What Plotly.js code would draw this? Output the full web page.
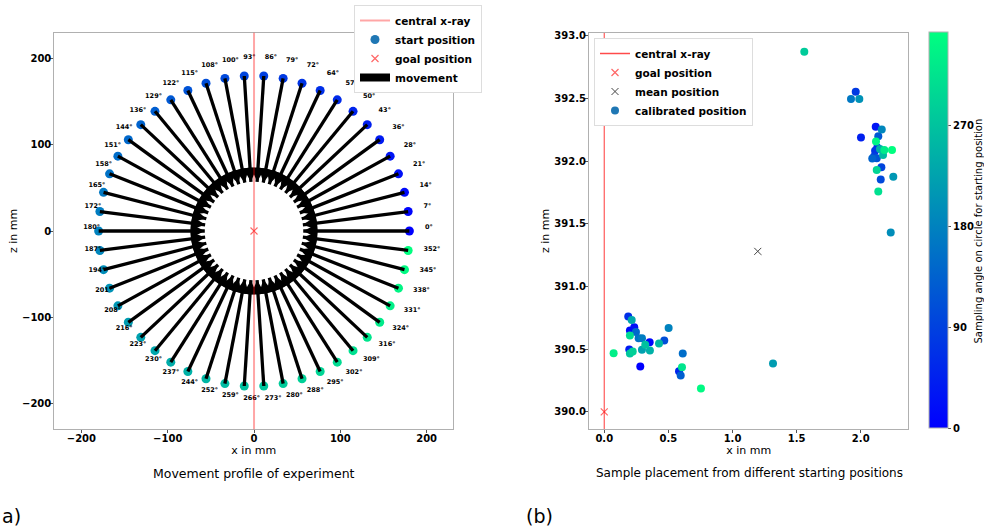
<!DOCTYPE html>
<html><head><meta charset="utf-8">
<script src="https://cdn.plot.ly/plotly-3.0.1.min.js"></script>
<style>html,body{margin:0;padding:0;background:#fff}</style>
</head><body><div id="chart" style="width:984px;height:532px"></div>
<script>
// ---- data ----
const angles = [0,7.2,14.4,21.6,28.8,36,43.2,50.4,57.6,64.8,72,79.2,86.4,93.6,100.8,108,115.2,122.4,129.6,136.8,144,151.2,158.4,165.6,172.8,180,187.2,194.4,201.6,208.8,216,223.2,230.4,237.6,244.8,252,259.2,266.4,273.6,280.8,288,295.2,302.4,309.6,316.8,324,331.2,338.4,345.6,352.8];
const angleLabels = ['0°','7°','14°','21°','28°','36°','43°','50°','57°','64°','72°','79°','86°','93°','100°','108°','115°','122°','129°','136°','144°','151°','158°','165°','172°','180°','187°','194°','201°','208°','216°','223°','230°','237°','244°','252°','259°','266°','273°','280°','288°','295°','302°','309°','316°','324°','331°','338°','345°','352°'];
const startRadius = 180;           // mm
const goalLeftX = [0], goalLeftZ = [0];

// calibrated positions, one per starting angle (same order as angles)
const calibX = [0.281,0.354,0.200,0.234,2.117,0.195,2.002,0.583,2.129,0.187,2.112,1.961,2.104,2.161,2.156,0.468,2.125,2.137,0.596,2.090,0.247,0.612,0.268,1.924,0.294,0.502,2.164,2.234,1.989,2.254,1.316,0.294,0.214,2.150,0.356,0.427,2.174,0.320,0.200,1.560,0.222,2.125,0.200,2.137,0.606,2.184,0.073,2.119,0.754,2.244];
const calibZ = [390.362,390.556,390.650,390.676,392.275,390.498,392.190,390.325,392.110,390.761,392.083,392.554,392.038,391.953,391.855,390.570,392.025,392.200,390.290,392.022,390.638,390.466,390.588,392.496,390.588,390.670,392.254,391.432,392.496,391.876,390.386,390.495,390.734,392.097,390.490,390.546,392.051,390.535,390.466,392.873,390.482,391.931,390.610,391.759,390.357,392.089,390.468,392.158,390.187,392.089];
const goalRightX = [0], goalRightZ = [390];
const meanX = [1.197], meanZ = [391.281];
const colorbarTicks = [0,90,180,270];

// ---- styling constants ----
const arrowScale = 0.683;  // quiver length as fraction of the movement
const labelFactor = 1.1;
const winter = [[0,'rgb(0,0,255)'],[1,'rgb(0,255,128)']];
const cmax = Math.max(...angles);
const boldTick = {family:'DejaVu Sans', size:10, weight:'bold', color:'black'};
const frameCol = '#b0b0b0';

// ---- derived geometry ----
const sx = angles.map(a => startRadius*Math.cos(a*Math.PI/180));
const sz = angles.map(a => startRadius*Math.sin(a*Math.PI/180));
const tx = sx.map(v => v + arrowScale*(goalLeftX[0]-v));
const tz = sz.map(v => v + arrowScale*(goalLeftZ[0]-v));
const shaftX = [], shaftZ = [];
sx.forEach((v,i)=>{shaftX.push(v, tx[i], null); shaftZ.push(sz[i], tz[i], null);});
const headRot = angles.map(a => -90 - a);
const lx = sx.map(v => labelFactor*v), lz = sz.map(v => labelFactor*v);

const traces = [
  // left legend entries
  {x:[null],y:[null],mode:'lines',name:'central x-ray',line:{color:'rgba(255,0,0,0.35)',width:2},xaxis:'x',yaxis:'y',legend:'legend'},
  {x:[null],y:[null],mode:'markers',name:'start position',marker:{color:'#1f77b4',size:9},xaxis:'x',yaxis:'y',legend:'legend'},
  {x:goalLeftX,y:goalLeftZ,mode:'markers',name:'goal position',marker:{symbol:'x-thin',size:7,line:{color:'rgba(255,0,0,0.6)',width:1.2}},xaxis:'x',yaxis:'y',legend:'legend'},
  {x:[null],y:[null],mode:'lines',name:'movement',line:{color:'black',width:8},xaxis:'x',yaxis:'y',legend:'legend'},
  // left marks
  {x:sx,y:sz,mode:'markers',showlegend:false,marker:{color:angles,colorscale:winter,cmin:0,cmax:cmax,size:9,showscale:false},xaxis:'x',yaxis:'y',hoverinfo:'skip'},
  {x:shaftX,y:shaftZ,mode:'lines',showlegend:false,line:{color:'black',width:3.3},xaxis:'x',yaxis:'y',hoverinfo:'skip'},
  {x:tx,y:tz,mode:'markers',showlegend:false,marker:{symbol:'arrow-up',size:14,color:'black',angle:headRot,line:{width:0}},xaxis:'x',yaxis:'y',hoverinfo:'skip'},
  {x:lx,y:lz,mode:'text',text:angleLabels,textposition:'top right',showlegend:false,textfont:{family:'DejaVu Sans',size:6.5,weight:'bold',color:'black'},xaxis:'x',yaxis:'y',hoverinfo:'skip'},
  // right legend entries
  {x:[null],y:[null],mode:'lines',name:'central x-ray',line:{color:'#ff4a4a',width:1.5},xaxis:'x2',yaxis:'y2',legend:'legend2'},
  {x:goalRightX,y:goalRightZ,mode:'markers',name:'goal position',marker:{symbol:'x-thin',size:7,line:{color:'rgba(255,0,0,0.6)',width:1.2}},xaxis:'x2',yaxis:'y2',legend:'legend2'},
  {x:meanX,y:meanZ,mode:'markers',name:'mean position',marker:{symbol:'x-thin',size:7,line:{color:'#444',width:1}},xaxis:'x2',yaxis:'y2',legend:'legend2'},
  {x:[null],y:[null],mode:'markers',name:'calibrated position',marker:{color:'#1f77b4',size:8},xaxis:'x2',yaxis:'y2',legend:'legend2'},
  {x:calibX,y:calibZ,mode:'markers',showlegend:false,xaxis:'x2',yaxis:'y2',
   marker:{color:angles,colorscale:winter,cmin:0,cmax:cmax,size:8,showscale:true,
     colorbar:{x:929/984,xanchor:'left',y:1-428.3/532,yanchor:'bottom',len:395.6/532,lenmode:'fraction',
       thickness:19,thicknessmode:'pixels',outlinecolor:frameCol,outlinewidth:1,xpad:0,ypad:0,
       tickvals:colorbarTicks,ticks:'outside',ticklen:3,tickcolor:'#555',tickfont:boldTick}}}
];

function ax(extra){
  return Object.assign({showgrid:false,zeroline:false,showline:true,mirror:true,linecolor:frameCol,linewidth:1,
    ticks:'outside',ticklen:3,tickcolor:'#555',tickfont:boldTick,ticklabelstandoff:-3,fixedrange:true},extra);
}
const yDom = [1-429.3/532, 1-32.7/532];
const layout = {
  width:984,height:532,margin:{l:0,r:0,t:0,b:0,autoexpand:false},paper_bgcolor:'white',plot_bgcolor:'white',
  font:{family:'DejaVu Sans',color:'black'},
  xaxis:ax({domain:[54.3/984,453.3/984],range:[-231.4,230.9],tick0:0,dtick:100,anchor:'y',
    title:{text:'x in mm',font:{size:11},standoff:0}}),
  yaxis:ax({domain:yDom,range:[-229.8,229.8],tick0:0,dtick:100,anchor:'x',
    title:{text:'z in mm',font:{size:11},standoff:2}}),
  xaxis2:ax({domain:[589/984,908.3/984],range:[-0.119,2.371],tick0:0,dtick:0.5,tickformat:'.1f',anchor:'y2',
    title:{text:'x in mm',font:{size:11},standoff:0}}),
  yaxis2:ax({domain:yDom,range:[389.861,393.026],tick0:390,dtick:0.5,tickformat:'.1f',anchor:'x2',
    title:{text:'z in mm',font:{size:11},standoff:2}}),
  legend:{x:354/984,y:1-5/532,xanchor:'left',yanchor:'top',bgcolor:'white',bordercolor:'#dddddd',borderwidth:1,
    font:{family:'DejaVu Sans',size:10.5,weight:'bold',color:'black'},traceorder:'normal'},
  legend2:{x:594/984,y:1-38/532,xanchor:'left',yanchor:'top',bgcolor:'white',bordercolor:'#dddddd',borderwidth:1,
    font:{family:'DejaVu Sans',size:10.5,weight:'bold',color:'black'},traceorder:'normal'},
  shapes:[
    {type:'line',xref:'x',yref:'y domain',x0:goalLeftX[0],x1:goalLeftX[0],y0:0,y1:1,layer:'above',line:{color:'rgba(255,0,0,0.35)',width:2}},
    {type:'line',xref:'x2',yref:'y2 domain',x0:goalRightX[0],x1:goalRightX[0],y0:0,y1:1,layer:'below',line:{color:'rgba(255,0,0,0.65)',width:1.2}}
  ],
  annotations:[
    {text:'Sampling angle on circle for starting position',xref:'paper',yref:'paper',x:977.5/984,y:1-231/532,xanchor:'center',yanchor:'middle',textangle:-90,showarrow:false,font:{size:10}},
    {text:'Movement profile of experiment',xref:'paper',yref:'paper',x:254/984,y:1-473/532,xanchor:'center',yanchor:'middle',showarrow:false,font:{size:12.5}},
    {text:'Sample placement from different starting positions',xref:'paper',yref:'paper',x:749/984,y:1-473/532,xanchor:'center',yanchor:'middle',showarrow:false,font:{size:12}},
    {text:'a)',xref:'paper',yref:'paper',x:0,y:1-516/532,xanchor:'left',yanchor:'middle',showarrow:false,font:{size:19}},
    {text:'(b)',xref:'paper',yref:'paper',x:524/984,y:1-516/532,xanchor:'left',yanchor:'middle',showarrow:false,font:{size:19}}
  ]
};
Plotly.newPlot('chart',traces,layout,{displayModeBar:false,staticPlot:true});
</script></body></html>
